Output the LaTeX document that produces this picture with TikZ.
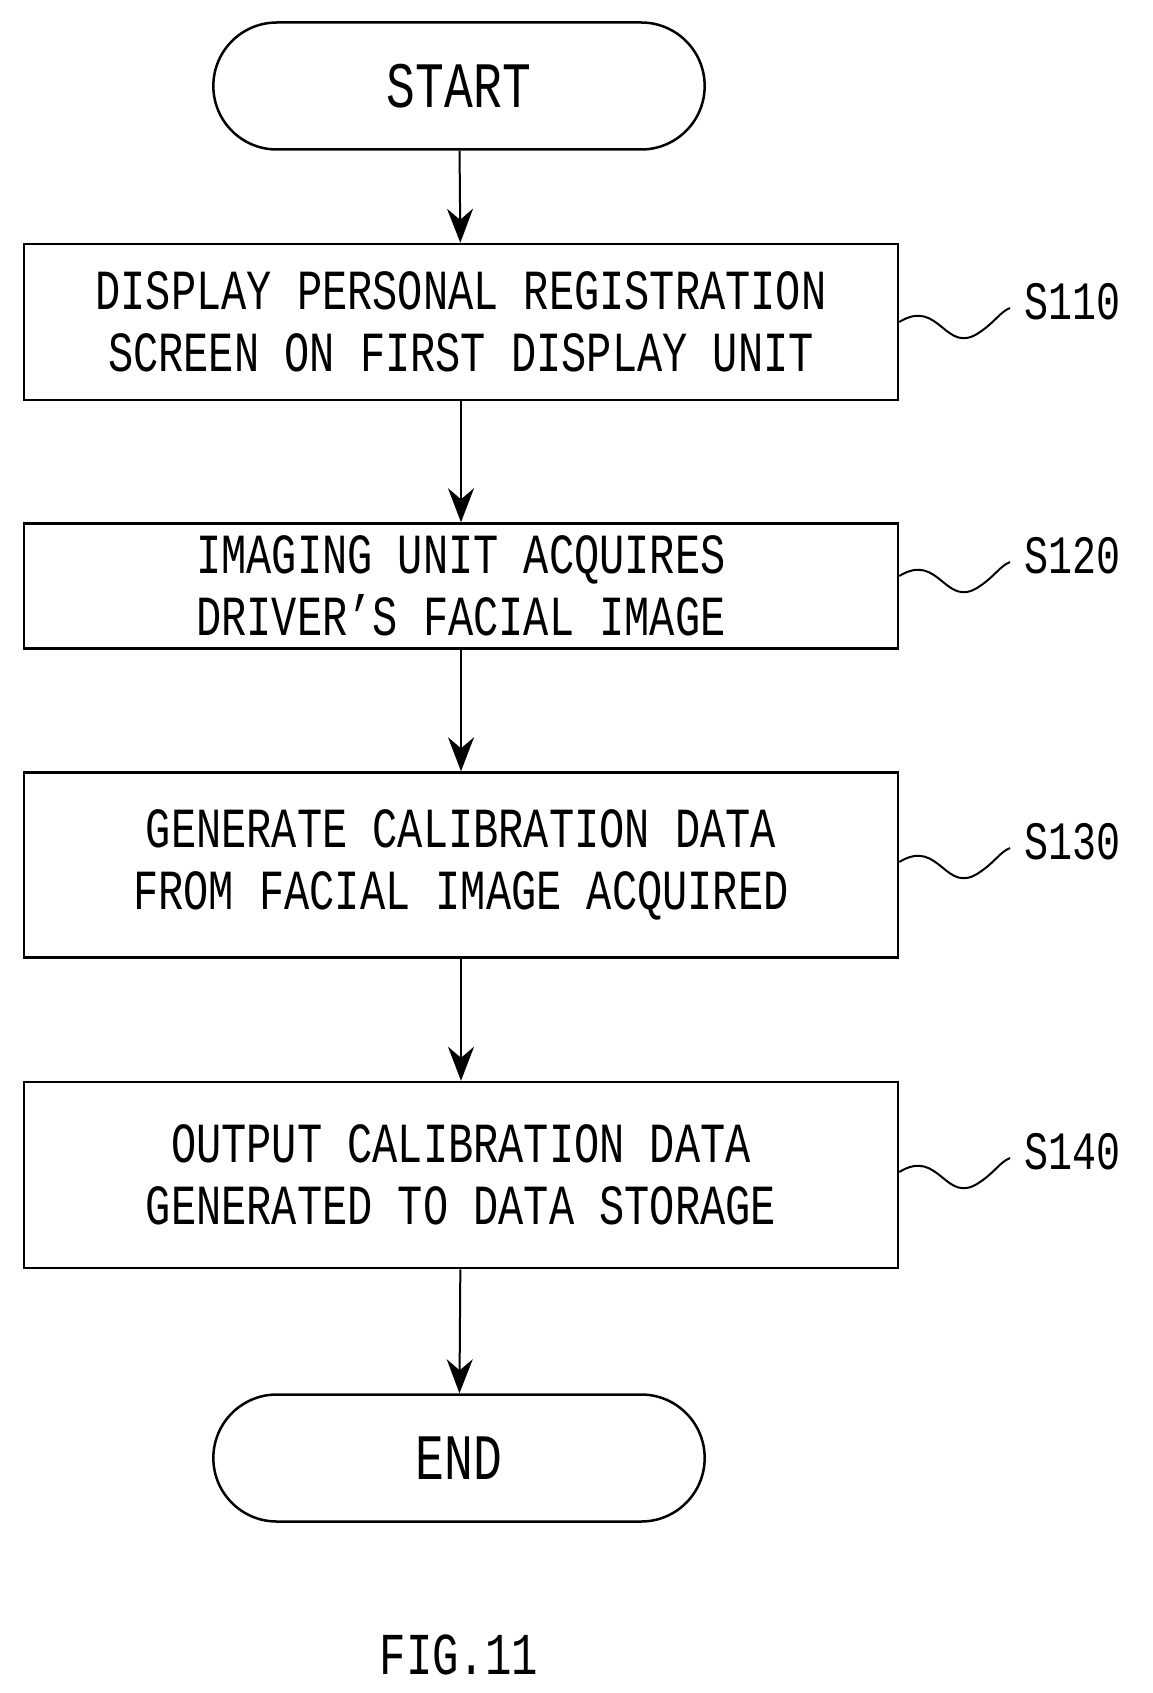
\documentclass[tikz,border=0pt]{standalone}
\usepackage{fontspec}
\setmainfont{Liberation Mono}
\usetikzlibrary{arrows.meta,shapes.misc}
\newcommand{\tl}[1]{\scalebox{1}[1.35]{#1}}
\begin{document}
\begin{tikzpicture}[x=1pt,y=-1pt,
  box/.style={draw,line width=2.5pt,minimum width=874pt,inner sep=0pt,align=center,font=\fontsize{42}{62}\selectfont},
  term/.style={draw,line width=2.5pt,rounded rectangle,minimum width=498pt,minimum height=127pt,font=\fontsize{48}{50}\selectfont},
  arr/.style={line width=2pt,-{Stealth[length=34pt,width=26pt]}},
  lab/.style={font=\fontsize{40}{40}\selectfont},
  sq/.style={line width=2pt}]
\useasboundingbox (0,0) rectangle (1152,1693);
\node[term] (st) at (459,86) {\tl{START}};
\node[box,minimum height=156pt] (b1) at (461,322) {\tl{DISPLAY PERSONAL REGISTRATION}\\\tl{SCREEN ON FIRST DISPLAY UNIT}};
\node[box,minimum height=125pt] (b2) at (461,586) {\tl{IMAGING UNIT ACQUIRES}\\\tl{DRIVER'S FACIAL IMAGE}};
\node[box,minimum height=185pt] (b3) at (461,865) {\tl{GENERATE CALIBRATION DATA}\\\tl{FROM FACIAL IMAGE ACQUIRED}};
\node[box,minimum height=186pt] (b4) at (461,1175) {\tl{OUTPUT CALIBRATION DATA}\\\tl{GENERATED TO DATA STORAGE}};
\node[term] (en) at (459,1458) {\tl{END}};
\node[font=\fontsize{44}{44}\selectfont] (fig) at (459,1655) {\tl{FIG.11}};
\draw[arr] (st) -- (b1);
\draw[arr] (b1) -- (b2);
\draw[arr] (b2) -- (b3);
\draw[arr] (b3) -- (b4);
\draw[arr] (b4) -- (en);
\foreach \b/\t/\y in {b1/S110/322,b2/S120/576,b3/S130/862,b4/S140/1172}{
  \node[lab] (l\b) at (1072,\y-20) {\tl{\t}};
  \coordinate (e\b) at (1010,\y-14);
  \draw[sq] (\b.east |- 0,\y) .. controls (940,\y-25) and (945,\y+35) .. (980,\y+10) .. controls (995,\y) and (1000,\y-10) .. (e\b);
}
\end{tikzpicture}
\end{document}
